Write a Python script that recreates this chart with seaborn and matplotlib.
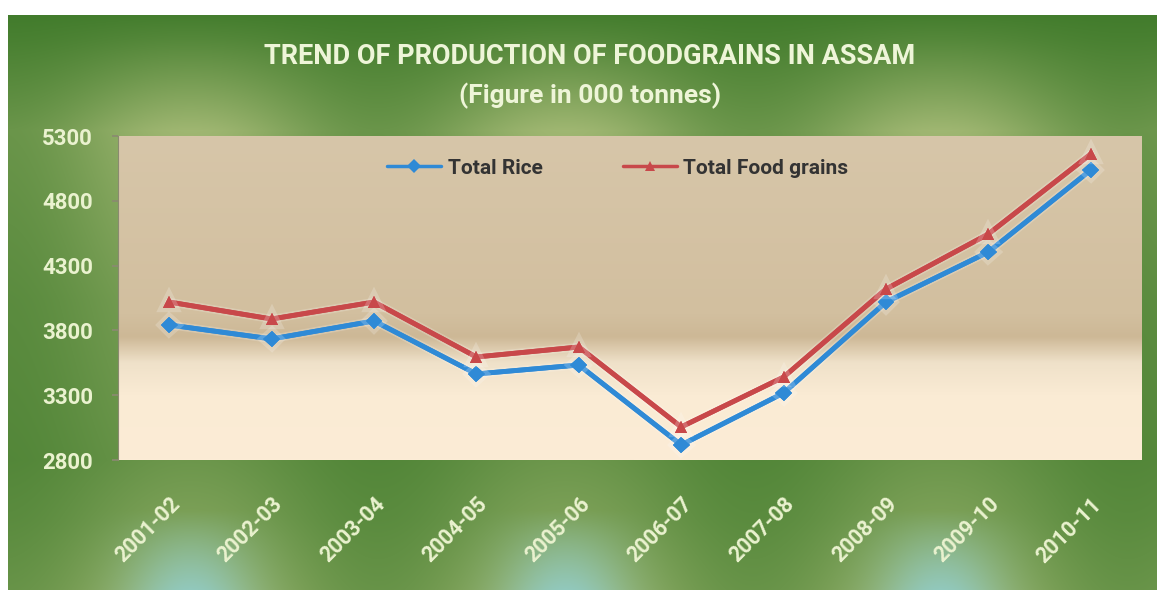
import numpy as np
import pandas as pd
import matplotlib
matplotlib.use("Agg")
import matplotlib.pyplot as plt
from matplotlib.colors import LinearSegmentedColormap, to_rgb
import matplotlib.patheffects as pe
import seaborn as sns

# Donnees (000 tonnes)
years = ["2001-02", "2002-03", "2003-04", "2004-05", "2005-06",
         "2006-07", "2007-08", "2008-09", "2009-10", "2010-11"]
total_rice = [3842, 3734, 3873, 3464, 3533, 2916, 3317, 4019, 4405, 5038]
total_food_grains = [4019, 3888, 4019, 3595, 3672, 3055, 3440, 4119, 4544, 5161]
y_ticks = [2800, 3300, 3800, 4300, 4800, 5300]

df = pd.DataFrame({
    "year": years * 2,
    "value": total_rice + total_food_grains,
    "series": ["Total Rice"] * len(years) + ["Total Food grains"] * len(years),
})

sns.set_theme(style="white")
plt.rcParams["font.family"] = ["Roboto", "DejaVu Sans"]

W, H = 1157, 590
fig = plt.figure(figsize=(W / 100, H / 100), dpi=100)

# Fond vert facon Excel
yy, xx = np.mgrid[0:H, 0:W].astype(float)
h = 0.5 + 0.5 * np.cos(2 * np.pi * (xx - 190) / 375)
g = np.interp(yy, [15, 40, 130, 300, 460, 520, 590], [0.05, 0.2, 0.85, 0.55, 0.4, 0.55, 0.8])
L = np.clip(g * (0.45 + 0.55 * h), 0, 1)[..., None]
dark = np.array(to_rgb("#3f7a2a"))
light = np.array(to_rgb("#b0c17e"))
img = dark + (light - dark) * L
cyan = np.array(to_rgb("#8fd0d8"))
c = (h ** 4 * np.clip((yy - 510) / 80, 0, 1))[..., None] * 0.75
img = img * (1 - c) + cyan * c
img[:15, :] = 1.0
img[:, :8] = 1.0
bg = fig.add_axes([0, 0, 1, 1], zorder=-10)
bg.imshow(img, extent=[0, W, H, 0], aspect="auto", interpolation="bilinear")
bg.axis("off")

ax = fig.add_axes([118 / W, 1 - 460 / H, (1142 - 118) / W, (460 - 136) / H])

# Degrade de la zone de trace
cmap = LinearSegmentedColormap.from_list("plotarea", [
    (0.0, "#fcecd6"), (0.2, "#faebd4"), (0.30, "#efe1c9"),
    (0.38, "#cdb896"), (0.45, "#d2bf9f"), (1.0, "#d7c6a9")])
ax.imshow(np.linspace(0, 1, 256)[:, None], cmap=cmap, origin="lower",
          extent=[0, 1, 0, 1], transform=ax.transAxes, aspect="auto", zorder=0)

palette = {"Total Rice": "#2f8ad6", "Total Food grains": "#c8484a"}
markers = {"Total Rice": "D", "Total Food grains": "^"}
sns.lineplot(data=df, x="year", y="value", hue="series", style="series",
             palette=palette, markers=markers, dashes=False, sort=False,
             linewidth=3.5, markersize=8.5, markeredgewidth=0, ax=ax, zorder=3)
for line in ax.lines:
    line.set_path_effects([pe.withStroke(linewidth=6, foreground=(1, 1, 1, 0.2)), pe.Normal()])

ax.set_xlim(-0.5, len(years) - 0.5)
ax.set_ylim(2800, 5300)
ax.set_yticks(y_ticks)
ax.set_xlabel("")
ax.set_ylabel("")
ax.tick_params(axis="y", length=4, color="#8a8a70", pad=14, labelsize=16,
               labelcolor="#eaf2cf", left=True)
ax.tick_params(axis="x", length=0, pad=24, labelsize=15.5, labelcolor="#eaf2cf")
for lab in ax.get_yticklabels():
    lab.set_fontweight("bold")
for lab in ax.get_xticklabels():
    lab.set_fontweight("bold")
    lab.set_rotation(45)
    lab.set_ha("right")
    lab.set_rotation_mode("anchor")
for side in ["top", "right", "bottom"]:
    ax.spines[side].set_visible(False)
ax.spines["left"].set_color("#8a8a70")
ax.spines["left"].set_linewidth(0.8)

leg = ax.legend(loc="center", bbox_to_anchor=(0.488, 0.901), ncol=2, frameon=False,
                fontsize=15, handlelength=2.6, handletextpad=0.3, columnspacing=3.85,
                labelcolor="#333333")
for t in leg.get_texts():
    t.set_fontweight("bold")
for hl in leg.legend_handles:
    hl.set_linewidth(2.5)
    hl.set_markersize(7)
    hl.set_path_effects([])

fig.text(0.51, 1 - 56 / H, "TREND OF PRODUCTION OF FOODGRAINS IN ASSAM",
         ha="center", va="center", fontsize=19.5, fontweight="bold", color="#eef5d8")
fig.text(0.51, 1 - 96 / H, "(Figure in 000 tonnes)",
         ha="center", va="center", fontsize=19, fontweight="bold", color="#eef5d8")

fig.savefig("out.png", dpi=100)
